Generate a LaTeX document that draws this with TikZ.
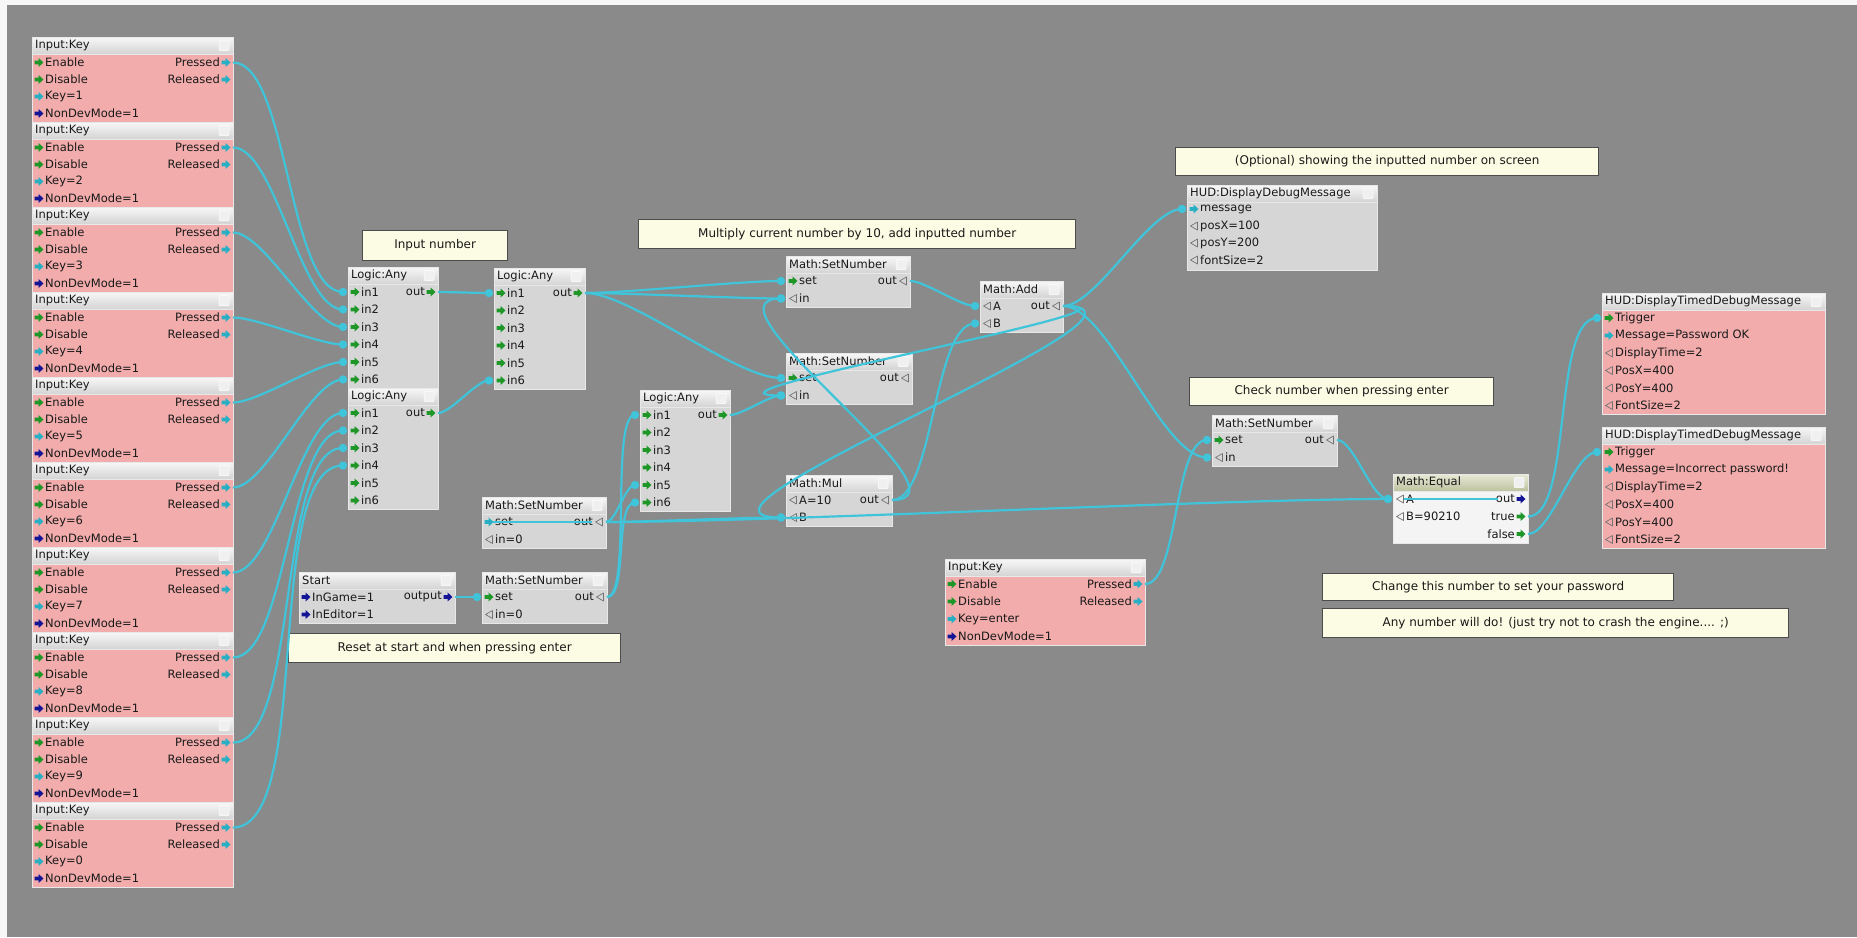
\documentclass[tikz,border=0pt]{standalone}
\usepackage{fontspec}
\setmainfont{DejaVu Sans}
\usetikzlibrary{fit}
\definecolor{bg}{RGB}{138,138,138}
\definecolor{pinkb}{RGB}{242,172,172}
\definecolor{grayb}{RGB}{214,214,214}
\definecolor{whiteb}{RGB}{244,244,244}
\definecolor{wire}{RGB}{64,196,218}
\definecolor{evg}{RGB}{30,150,40}
\definecolor{valc}{RGB}{40,175,195}
\definecolor{blu}{RGB}{20,20,150}
\definecolor{cmt}{RGB}{252,252,228}
\definecolor{txt}{RGB}{25,25,25}
\tikzset{
 fgbody/.style={fill=#1, draw=white!82!gray, line width=0.8pt, inner sep=0pt},
 fgtitle/.style={top color=white!94!gray, bottom color=white!66!gray, draw=white!82!gray, line width=0.8pt, inner sep=0pt},
 eqtitle/.style={top color={rgb,255:red,232;green,234;blue,214}, bottom color={rgb,255:red,190;green,194;blue,160}, draw=white!82!gray, line width=0.8pt, inner sep=0pt},
 lbl/.style={font=\fontsize{11.5}{12}\selectfont, text=txt, inner sep=0pt},
 dropbox/.style={fill=white!88!gray, draw=white, line width=0.5pt, minimum width=10pt, minimum height=10pt, inner sep=0pt, rounded corners=1pt},
 cmtbox/.style={fill=cmt, draw=black!70, line width=1.3pt, inner sep=0pt, font=\fontsize{12}{13}\selectfont, text=txt, anchor=north west},
 conn/.style={draw=wire, line width=2.2pt},
 hilite/.style={draw=wire, line width=1.4pt},
 pics/evar/.style={code={\fill[#1] (-4.5,-1.9) -- (-0.5,-1.9) -- (-0.5,-4.6) -- (4.5,0) -- (-0.5,4.6) -- (-0.5,1.9) -- (-4.5,1.9) -- cycle;}},
 pics/valar/.style={code={\draw[black!55, line width=0.7pt, line join=round] (3.5,-4) -- (-3.5,0) -- (3.5,4) -- cycle;}},
}
\newcommand{\fgn}[8][fgtitle]{%
 \node[fgbody=#8, fit={(#3,#4) (#5,#6)}] (#2) {};
 \node[#1, fit={(#3,#4) (#5,#4+17)}] (#2t) {};
 \node[lbl, anchor=west] at (#3+3,#4+8.5) {#7};
 \node[dropbox] at (#5-9,#4+8.5) {};
}
\newcommand{\pin}[5]{\pic at (#1+7,#2) {#3}; \node[lbl,anchor=west] at (#1+13,#2) {#4}; \coordinate (#5) at (#1-5,#2);}
\newcommand{\pout}[5]{\pic at (#1-7,#2) {#3}; \node[lbl,anchor=east] at (#1-13,#2) {#4}; \coordinate (#5) at (#1,#2);}
\newcommand{\wire}[3][0.55]{\draw[conn] (#2) to[out=0,in=180,looseness=#1] (#3); \fill[wire] (#3) circle (4.2);}
\begin{document}
\begin{tikzpicture}[x=1pt,y=-1pt]
\useasboundingbox (0,0) rectangle (1857,937);
\fill[white!94!gray] (0,0) rectangle (1857,937);
\fill[bg] (7,5) rectangle (1857,937);
% ---------- Input:Key column
\foreach \k/\lab in {0/1,1/2,2/3,3/4,4/5,5/6,6/7,7/8,8/9,9/0}{
 \pgfmathsetmacro\ty{37+85*\k}
 \fgn{key\k}{32}{\ty}{233}{\ty+85}{Input:Key}{pinkb}
 \pin{32}{\ty+25.5}{evar=evg}{Enable}{key\k en}
 \pin{32}{\ty+42.5}{evar=evg}{Disable}{key\k di}
 \pin{32}{\ty+59.5}{evar=valc}{Key=\lab}{key\k ky}
 \pin{32}{\ty+76.5}{evar=blu}{NonDevMode=1}{key\k nd}
 \pout{233}{\ty+25.5}{evar=valc}{Pressed}{key\k p}
 \pout{233}{\ty+42.5}{evar=valc}{Released}{key\k r}
}
% ---------- Logic:Any nodes
\fgn{la1}{348}{267}{438}{388}{Logic:Any}{grayb}
\foreach \i in {1,...,6}{\pgfmathsetmacro\yy{292+17.5*(\i-1)}\pin{348}{\yy}{evar=evg}{in\i}{la1i\i}}
\pout{438}{292}{evar=evg}{out}{la1o}
\fgn{la2}{348}{388}{438}{509}{Logic:Any}{grayb}
\foreach \i in {1,...,6}{\pgfmathsetmacro\yy{413+17.5*(\i-1)}\pin{348}{\yy}{evar=evg}{in\i}{la2i\i}}
\pout{438}{413}{evar=evg}{out}{la2o}
\fgn{la3}{494}{268}{585}{389}{Logic:Any}{grayb}
\foreach \i in {1,...,6}{\pgfmathsetmacro\yy{293+17.5*(\i-1)}\pin{494}{\yy}{evar=evg}{in\i}{la3i\i}}
\pout{585}{293}{evar=evg}{out}{la3o}
\fgn{la4}{640}{390}{730}{511}{Logic:Any}{grayb}
\foreach \i in {1,...,6}{\pgfmathsetmacro\yy{415+17.5*(\i-1)}\pin{640}{\yy}{evar=evg}{in\i}{la4i\i}}
\pout{730}{415}{evar=evg}{out}{la4o}
% ---------- Math nodes
\fgn{ms1}{786}{256}{910}{307}{Math:SetNumber}{grayb}
\pin{786}{281}{evar=evg}{set}{ms1s}
\pin{786}{298.5}{valar}{in}{ms1i}
\pout{910}{281}{valar}{out}{ms1o}
\fgn{ms2}{786}{353}{912}{404}{Math:SetNumber}{grayb}
\pin{786}{378}{evar=evg}{set}{ms2s}
\pin{786}{395.5}{valar}{in}{ms2i}
\pout{912}{378}{valar}{out}{ms2o}
\fgn{mul}{786}{475}{892}{526}{Math:Mul}{grayb}
\pin{786}{500}{valar}{A=10}{mula}
\pin{786}{517.5}{valar}{B}{mulb}
\pout{892}{500}{valar}{out}{mulo}
\fgn{add}{980}{281}{1063}{332}{Math:Add}{grayb}
\pin{980}{306}{valar}{A}{adda}
\pin{980}{323.5}{valar}{B}{addb}
\pout{1063}{306}{valar}{out}{addo}
\fgn{ms3}{482}{497}{606}{548}{Math:SetNumber}{grayb}
\pin{482}{522}{evar=valc}{set}{ms3s}
\pin{482}{539.5}{valar}{in=0}{ms3i}
\pout{606}{522}{valar}{out}{ms3o}
\fgn{ms4}{482}{572}{607}{623}{Math:SetNumber}{grayb}
\pin{482}{597}{evar=evg}{set}{ms4s}
\pin{482}{614.5}{valar}{in=0}{ms4i}
\pout{607}{597}{valar}{out}{ms4o}
\fgn{start}{299}{572}{455}{623}{Start}{grayb}
\pin{299}{597}{evar=blu}{InGame=1}{stg}
\pin{299}{614.5}{evar=blu}{InEditor=1}{ste}
\pout{455}{597}{evar=blu}{output}{sto}
\fgn{hud}{1187}{185}{1377}{270}{HUD:DisplayDebugMessage}{grayb}
\pin{1187}{209}{evar=valc}{message}{hudm}
\pin{1187}{226}{valar}{posX=100}{hudx}
\pin{1187}{243}{valar}{posY=200}{hudy}
\pin{1187}{260}{valar}{fontSize=2}{hudf}
\fgn{ms5}{1212}{415}{1337}{466}{Math:SetNumber}{grayb}
\pin{1212}{440}{evar=evg}{set}{ms5s}
\pin{1212}{457.5}{valar}{in}{ms5i}
\pout{1337}{440}{valar}{out}{ms5o}
\fgn[eqtitle]{eq}{1393}{474}{1528}{543}{Math:Equal}{whiteb}
\pin{1393}{499}{valar}{A}{eqa}
\pin{1393}{516.5}{valar}{B=90210}{eqb}
\pout{1528}{499}{evar=blu}{out}{eqo}
\pout{1528}{516.5}{evar=evg}{true}{eqt}
\pout{1528}{534}{evar=evg}{false}{eqf}
\fgn{hta}{1602}{293}{1825}{414}{HUD:DisplayTimedDebugMessage}{pinkb}
\pin{1602}{318}{evar=evg}{Trigger}{htat}
\pin{1602}{335.5}{evar=valc}{Message=Password OK}{htam}
\pin{1602}{353}{valar}{DisplayTime=2}{htad}
\pin{1602}{370.5}{valar}{PosX=400}{htax}
\pin{1602}{388}{valar}{PosY=400}{htay}
\pin{1602}{405.5}{valar}{FontSize=2}{htaf}
\fgn{htb}{1602}{427}{1825}{548}{HUD:DisplayTimedDebugMessage}{pinkb}
\pin{1602}{452}{evar=evg}{Trigger}{htbt}
\pin{1602}{469.5}{evar=valc}{Message=Incorrect password!}{htbm}
\pin{1602}{487}{valar}{DisplayTime=2}{htbd}
\pin{1602}{504.5}{valar}{PosX=400}{htbx}
\pin{1602}{522}{valar}{PosY=400}{htby}
\pin{1602}{539.5}{valar}{FontSize=2}{htbf}
\fgn{ent}{945}{559}{1145}{645}{Input:Key}{pinkb}
\pin{945}{584}{evar=evg}{Enable}{enten}
\pin{945}{601.5}{evar=evg}{Disable}{entdi}
\pin{945}{619}{evar=valc}{Key=enter}{entky}
\pin{945}{636.5}{evar=blu}{NonDevMode=1}{entnd}
\pout{1145}{584}{evar=valc}{Pressed}{entp}
\pout{1145}{601.5}{evar=valc}{Released}{entr}
% ---------- comments
\node[cmtbox, minimum width=145pt, minimum height=30pt] (c1) at (362,230) {Input number};
\node[cmtbox, minimum width=437pt, minimum height=29pt] (c2) at (638,219) {Multiply current number by 10, add inputted number};
\node[cmtbox, minimum width=423pt, minimum height=28pt] (c3) at (1175,147) {(Optional) showing the inputted number on screen};
\node[cmtbox, minimum width=304pt, minimum height=28pt] (c4) at (1189,377) {Check number when pressing enter};
\node[cmtbox, minimum width=332pt, minimum height=29pt] (c5) at (288,633) {Reset at start and when pressing enter};
\node[cmtbox, minimum width=351pt, minimum height=27pt] (c6) at (1322,573) {Change this number to set your password};
\node[cmtbox, minimum width=466pt, minimum height=29pt] (c7) at (1322,608) {Any number will do! (just try not to crash the engine.... ;)};
% ---------- wires
\wire{key0p}{la1i1}\wire{key1p}{la1i2}\wire{key2p}{la1i3}
\wire{key3p}{la1i4}\wire{key4p}{la1i5}\wire{key5p}{la1i6}
\wire{key6p}{la2i1}\wire{key7p}{la2i2}\wire{key8p}{la2i3}\wire{key9p}{la2i4}
\wire{la1o}{la3i1}\wire{la2o}{la3i6}
\wire{la3o}{ms1s}\wire{la3o}{ms1i}\wire{la3o}{ms2s}
\wire{la4o}{ms2i}
\wire{ms1o}{adda}
\wire{mulo}{addb}
\wire[1]{mulo}{ms1i}
\wire[1]{addo}{mulb}
\wire[1]{addo}{ms2i}
\wire{addo}{hudm}
\wire{addo}{ms5i}
\wire{entp}{ms5s}
\wire{ms5o}{eqa}
\wire{eqt}{htat}\wire{eqf}{htbt}
\wire{sto}{ms4s}
\wire[0.35]{ms4o}{la4i1}
\wire{ms3o}{la4i5}\wire{ms4o}{la4i6}
\wire{ms3o}{mulb}\wire{ms3o}{eqa}
\draw[hilite] (ms3s) ++(16,0) -- ([xshift=-14pt]ms3o);
\draw[hilite] (eqa) ++(16,0) -- ([xshift=-30pt]eqo);
\end{tikzpicture}
\end{document}
